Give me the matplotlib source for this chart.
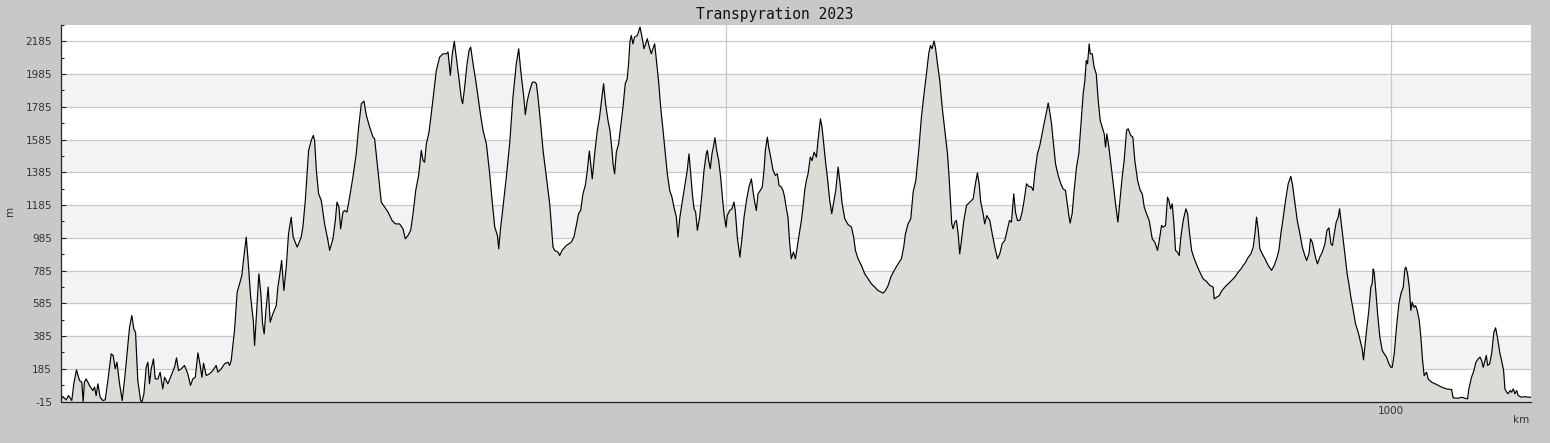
import matplotlib
matplotlib.use("Agg")
import matplotlib.pyplot as plt
import numpy as np

plt.rcParams["axes.unicode_minus"] = False

title = "Transpyration 2023"

km = [0, 1.75, 4.3, 6.0, 8.5, 10.0, 12.0, 14.3, 16.0, 17.0, 18.0, 19.3, 21.8, 24.3, 25.6, 26.8, 28.1, 29.8, 31.8, 33.6, 35.6, 38.1, 39.6, 41.1, 42.4, 44.4, 46.4, 48.6, 51.9, 53.6, 55.1, 56.4, 58.1, 60.2, 61.2, 62.7, 64.4, 65.7, 66.9, 68.2, 69.9, 71.2, 73.2, 74.9, 76.9, 78.2, 80.7, 83.2, 85.7, 87.2, 88.7, 90.7, 93.2, 95.7, 97.7, 99.5, 101.3, 103.3, 105.0, 106.3, 107.5, 109.5, 112.0, 114.5, 117.0, 118.3, 120.8, 123.3, 125.8, 127.1, 128.3, 130.8, 132.8, 134.6, 136.3, 137.8, 139.6, 140.9, 142.9, 144.9, 145.9, 147.6, 149.1, 150.6, 151.9, 153.1, 154.4, 156.1, 157.6, 159.6, 162.2, 163.4, 164.9, 166.2, 167.9, 169.7, 171.4, 173.4, 174.9, 177.9, 180.9, 182.2, 184.0, 186.5, 188.5, 190.0,
      191.0, 192.3, 194.0, 196.0, 198.5, 201.0, 202.3, 204.8, 206.6, 207.8, 209.3, 210.6, 212.3, 213.6, 215.3, 217.3, 219.8, 222.3, 224.1, 226.1, 228.1, 229.9, 232.4, 234.9, 236.1, 238.6, 241.1, 243.7, 246.2, 249.2, 251.7, 254.9, 257.4, 259.2, 261.2, 263.2, 265.0, 267.0, 269.2, 271.2, 272.5, 273.7, 275.0, 277.0, 278.7, 280.7, 282.5, 285.0, 287.5, 290.0, 291.3, 293.0, 294.5, 296.0, 297.5, 299.5, 301.3, 302.3, 303.8, 305.6, 307.1, 308.3, 310.1, 312.1, 313.8, 315.6, 317.6, 320.1, 322.6, 324.4, 326.4, 328.4, 329.4, 330.6, 332.6, 335.1, 337.6, 340.1, 342.6, 344.4, 345.9, 348.2, 349.4, 350.9, 352.7, 354.7, 356.4, 357.7, 358.9, 360.9, 362.7, 365.2, 367.7, 370.2, 371.5, 374.0, 375.2, 377.0,
      380.2, 383.9, 385.9, 387.7, 389.4, 391.0, 392.7, 394.5, 396.0, 397.5, 398.5, 399.7, 401.5, 403.5, 405.2, 406.5, 408.2, 409.7, 411.5, 413.0, 414.5, 415.3, 416.5, 417.8, 419.5, 421.0, 422.8, 424.5, 426.0, 427.0, 428.0, 429.0, 430.3, 431.5, 433.6, 435.6, 437.1, 438.6, 439.8, 441.1, 442.6, 444.1, 445.3, 446.6, 447.8, 449.6, 451.1, 452.9, 454.6, 456.1, 457.9, 459.6, 461.1, 462.9, 464.1, 465.4, 467.1, 469.1, 471.1, 472.4, 473.7, 474.9, 476.2, 477.4, 478.7, 480.4, 481.9, 483.7, 485.4, 486.2, 487.2, 488.4, 489.7, 490.7, 491.9, 493.2, 494.7, 496.2, 497.5, 498.7, 500.2, 501.2, 503.0, 504.7, 506.2, 507.2, 508.7, 510.7, 512.3, 513.8, 515.8, 517.5, 519.3, 520.8, 521.8, 523.0, 524.3, 526.0, 527.5, 528.8, 529.8, 531.3, 532.3, 533.8, 535.6, 537.3, 538.8, 540.1, 541.8, 543.1, 544.3, 545.6, 546.8, 548.1, 549.3, 550.9, 552.4, 553.4, 554.9, 556.9, 558.1, 559.4, 560.6, 561.9, 563.6, 564.9, 566.4,
      568.2, 569.4, 571.2, 572.4, 573.9, 575.2, 576.4, 578.2, 579.7, 581.2, 582.7, 584.5, 586.0, 587.5, 589.5, 592.0, 594.5, 596.2, 597.5, 599.5, 602.0, 604.5, 607.0, 609.5, 612.0, 614.5, 618.3, 620.1, 622.1, 624.1, 626.6, 629.6, 632.1, 633.8, 635.1, 637.1, 639.1, 640.9, 642.9, 645.1, 647.1, 649.1, 650.9, 652.6, 653.9, 655.1, 656.6, 657.6, 659.2, 660.9, 662.7, 664.7, 666.7, 667.9, 669.2, 669.9, 670.9, 672.2, 673.4, 674.7, 675.9, 677.2, 679.0, 681.0, 683.5, 686.0, 687.7, 689.2, 690.5, 691.7, 693.5, 694.7, 696.2, 698.5, 700.3, 702.3, 704.3, 706.0, 707.8, 709.8, 711.8, 713.3, 714.8, 716.5, 717.8, 719.3, 721.1, 722.8, 724.3, 726.1, 727.8, 729.8, 731.1, 732.3, 734.3, 736.1, 737.8, 739.3, 741.1, 742.4, 743.6, 744.9, 746.1, 747.9, 749.9, 751.9, 753.6,
      755.4, 756.9, 757.9, 758.9, 760.4, 761.9, 763.7, 765.4, 766.9, 768.7, 770.0, 771.0, 772.0, 773.2, 774.0, 775.5, 776.9, 778.5, 780.0, 781.5, 783.0, 784.5, 785.5, 786.5, 788.0, 789.5, 791.3, 793.0, 794.8, 796.3, 798.0, 799.5, 801.3, 802.5, 804.5, 806.0, 807.5, 809.6, 811.6, 813.1, 814.6, 816.3, 818.3, 820.6, 822.6, 824.6, 825.9, 827.6, 828.9, 830.6, 832.1, 833.1, 834.4, 835.6, 836.9, 838.1, 839.6, 840.9, 842.1, 843.9, 845.9, 847.2, 848.4, 850.2, 852.2, 854.2, 856.4, 858.9, 861.4, 863.9, 866.4, 867.2, 869.0, 871.0, 872.7, 875.2, 877.7, 880.2, 882.7, 885.2, 887.3, 889.0, 890.8, 892.8, 894.8, 896.5, 897.8, 899.0, 900.3, 901.5, 903.3, 905.3, 907.8, 910.3, 912.3, 914.1, 915.8, 917.3, 919.1, 920.8, 922.8, 924.8, 926.1, 927.9, 929.6, 931.6, 933.4, 934.9, 936.6, 938.4, 939.6, 940.9, 942.4,
      943.6, 944.8, 946.6, 948.4, 950.4, 951.9, 953.4, 954.9, 956.1, 957.4, 958.9, 960.4, 961.4, 962.4, 963.9, 965.4, 967.1, 968.4, 969.9, 971.7, 973.4, 975.4, 976.9, 978.4, 979.4, 980.4, 981.7, 983.4, 984.9, 985.9, 986.7, 987.4, 988.4, 990.0, 991.7, 993.5, 995.0, 996.7, 998.5, 1000.0, 1001.0, 1002.5, 1004.2, 1006.0, 1007.5, 1009.3, 1010.5, 1011.3, 1012.5, 1013.8, 1015.0, 1016.0, 1017.3, 1018.5, 1019.8, 1021.3, 1022.5, 1023.8, 1025.0, 1026.8, 1028.0, 1030.6, 1034.3, 1038.1, 1041.8, 1045.6, 1046.8, 1050.6, 1053.1, 1055.6, 1057.6, 1058.6, 1060.6, 1062.4, 1063.9, 1065.6, 1066.9, 1068.2, 1069.4, 1070.7, 1071.7, 1072.7, 1074.2, 1075.7, 1077.4, 1078.7, 1080.2, 1082.0, 1083.2, 1084.7, 1085.7, 1087.0, 1088.2, 1089.5, 1090.7, 1092.0, 1093.2, 1094.5, 1095.7, 1098.2, 1100.7, 1103.3, 1105.3]

elevation = [-8, 15, -5, 21, -9, 93, 178, 113, 103, -15, 103, 123, 83, 52, 73, 21, 93, 11, -9, -5, 113, 276, 266, 184, 225, 93, -9, 154, 439, 510, 429, 408, 113, -9, -20, 32, 194, 225, 93, 184, 245, 123, 123, 164, 62, 133, 93, 144, 194, 252, 174, 184, 205, 154, 83, 123, 133, 282, 205, 133, 219, 144, 154, 174, 205, 164, 184, 215, 225, 205, 235, 419, 653, 704, 755, 867, 989, 857, 625, 480, 327, 561, 765, 643, 459, 398, 541, 684, 469, 520, 571, 684, 765, 847, 663, 806, 1010, 1111, 989, 928, 989, 1050, 1213, 1519, 1580, 1610,
             1580, 1397, 1254, 1213, 1070, 969, 908, 979, 1091, 1203, 1172, 1040, 1142, 1152, 1142, 1233, 1356, 1498, 1661, 1804, 1820, 1732, 1661, 1600, 1590, 1397, 1203, 1172, 1142, 1091, 1070, 1070, 1040, 979, 999, 1030, 1132, 1274, 1366, 1519, 1457, 1447, 1559, 1631, 1743, 1885, 2008, 2089, 2109, 2109, 2120, 1977, 2109, 2185, 2089, 1957, 1834, 1804, 1906, 2048, 2130, 2150, 2048, 1946, 1845, 1743, 1641, 1559, 1376, 1213, 1050, 999, 918, 1030, 1172, 1356, 1559, 1845, 2048, 2140, 2008, 1845, 1737, 1824, 1885, 1936, 1936, 1926, 1845, 1682, 1519, 1356, 1193, 928, 908, 897, 877, 908,
             938, 958, 989, 1060, 1132, 1152, 1254, 1305, 1397, 1515, 1437, 1345, 1498, 1641, 1722, 1814, 1926, 1804, 1702, 1641, 1519, 1437, 1376, 1508, 1559, 1661, 1783, 1926, 1957, 2048, 2181, 2221, 2170, 2211, 2221, 2272, 2211, 2140, 2170, 2201, 2150, 2109, 2140, 2170, 2079, 1936, 1783, 1641, 1498, 1376, 1274, 1233, 1172, 1111, 989, 1101, 1193, 1295, 1397, 1498, 1376, 1254, 1162, 1142, 1030, 1111, 1233, 1397, 1498, 1519, 1457, 1407, 1498, 1539, 1596, 1519, 1457, 1356, 1233, 1132, 1050, 1121, 1152, 1162, 1203, 1152, 989, 867, 989, 1111, 1223, 1295, 1345, 1254, 1203, 1152, 1254, 1274, 1295, 1397, 1519, 1600, 1539, 1478, 1397, 1366, 1376, 1305, 1295, 1274, 1233, 1162, 1111, 949, 857, 898, 857, 908, 989, 1091, 1172, 1274, 1335, 1376, 1478, 1457, 1508,
             1478, 1580, 1712, 1661, 1539, 1437, 1356, 1213, 1132, 1203, 1274, 1417, 1315, 1193, 1101, 1066, 1050, 989, 908, 857, 816, 765, 734, 704, 684, 663, 647, 663, 694, 745, 785, 826, 857, 928, 1010, 1071, 1101, 1264, 1335, 1519, 1722, 1865, 1987, 2109, 2160, 2140, 2187, 2150, 2048, 1946, 1783, 1641, 1498, 1356, 1172, 1070, 1040, 1081, 1091, 1010, 887, 969, 1091, 1183, 1203, 1223, 1315, 1382, 1315, 1203, 1132, 1070, 1121, 1091, 1010, 928, 857, 887, 949, 969, 1040, 1091, 1081, 1254, 1142, 1091, 1091, 1142, 1213, 1315, 1299, 1295, 1274, 1376, 1498, 1549, 1620, 1682, 1753, 1808, 1753, 1682, 1580, 1437, 1366, 1315, 1284,
             1274, 1183, 1121, 1075, 1132, 1274, 1417, 1498, 1661, 1865, 1946, 2069, 2048, 2170, 2109, 2109, 2028, 1987, 1824, 1702, 1661, 1620, 1539, 1620, 1539, 1437, 1315, 1193, 1081, 1213, 1356, 1457, 1641, 1651, 1610, 1600, 1457, 1335, 1274, 1254, 1172, 1132, 1091, 979, 958, 908, 969, 1060, 1050, 1060, 1233, 1213, 1162, 1193, 1070, 908, 897, 877, 989, 1091, 1162, 1132, 1030, 908, 857, 816, 775, 734, 718, 694, 684, 612, 622, 632, 659, 684, 704, 724, 745, 775, 795, 816, 836, 867, 887, 928, 1010, 1111, 1030, 918, 887, 857, 816, 786, 816, 857, 908, 1010, 1111, 1213, 1315, 1360, 1305, 1193, 1091, 1010, 928, 887, 846, 887, 979, 958, 900,
             857, 826, 867, 897, 948, 1030, 1046, 948, 938, 1010, 1081, 1111, 1162, 1091, 989, 887, 765, 704, 622, 541, 460, 408, 357, 306, 239, 317, 419, 541, 684, 704, 795, 775, 684, 520, 378, 296, 276, 256, 215, 194, 194, 276, 439, 582, 643, 684, 795, 806, 765, 684, 541, 592, 561, 571, 541, 480, 378, 235, 143, 164, 123, 103, 89, 73, 62, 58, 7, 5, 11, 5, 1, 62, 133, 174, 225, 245, 256, 235, 194, 235, 266, 205, 215, 276, 408, 435, 370, 276, 235, 174, 62, 42, 32, 52, 42, 62, 32, 52, 21, 11, 15, 11, 11]

y_ticks = [-15, 185, 385, 585, 785, 985, 1185, 1385, 1585, 1785, 1985, 2185]
x_ticks = [500, 1000]
x_tick_labels = ["", "1000"]

fig = plt.figure(figsize=(15.5, 4.43), dpi=100, facecolor="#c8c8c8")
ax = fig.add_axes([60.5 / 1550, 1 - 401.5 / 443, (1531 - 60.5) / 1550, (401.5 - 25) / 443])
ax.set_facecolor("white")

x_max = 1105.3
y_min, y_max = -15, 2285
ax.set_xlim(0, x_max)
ax.set_ylim(y_min, y_max)

for lo in range(185, 2185, 400):
    ax.axhspan(lo, lo + 200, color="#f3f2f5", zorder=0, lw=0)

ax.set_axisbelow(True)
ax.set_yticks(y_ticks)
ax.set_yticks(np.arange(85, 2286, 200), minor=True)
ax.set_xticks(x_ticks)
ax.set_xticklabels(x_tick_labels)
ax.set_xticks(np.arange(100, 1101, 100), minor=True)
ax.grid(True, which="major", color="#c8c8c8", lw=0.9, zorder=0.5)

ax.fill_between(km, elevation, y_min - 50, color="#dcdbd6", lw=0, zorder=1)
ax.plot(km, elevation, color="black", lw=0.85, zorder=2)

for s in ["top", "right"]:
    ax.spines[s].set_visible(False)
for s in ["left", "bottom"]:
    ax.spines[s].set_color("#222222")
    ax.spines[s].set_linewidth(0.9)

ax.tick_params(axis="both", which="major", direction="in", length=3.5, width=0.8,
               colors="#222222", labelcolor="#333333", labelsize=7.5)
ax.tick_params(axis="both", which="minor", direction="in", length=2.5, width=0.8, colors="#222222")
ax.tick_params(axis="y", which="major", pad=6)
ax.tick_params(axis="x", which="major", pad=3)

fig.text(0.5, 1 - 14 / 443, title, ha="center", va="center",
         family="DejaVu Sans Mono", fontsize=10.5, color="#111111")
fig.text(10 / 1550, 1 - 211 / 443, "m", ha="center", va="center", rotation=90,
         fontsize=7.5, color="#333333")
fig.text(1521 / 1550, 1 - 420 / 443, "km", ha="center", va="center",
         fontsize=7.5, color="#333333")

fig.savefig("out.png", dpi=100, facecolor=fig.get_facecolor())
